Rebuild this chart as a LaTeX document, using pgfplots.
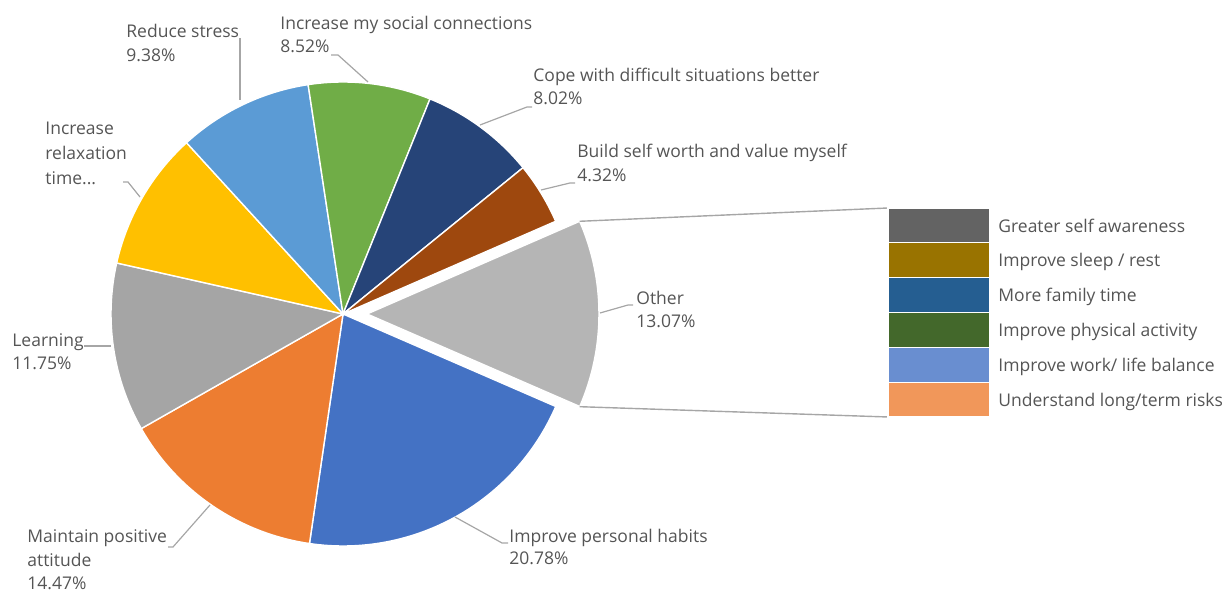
\documentclass[border=0pt]{standalone}
\usepackage{pgfplots}
\pgfplotsset{compat=1.18}
\usepackage{pgfplotstable}
\usepackage{fontspec}
\setmainfont{Open Sans}
\definecolor{cA}{HTML}{4472C4}
\definecolor{cB}{HTML}{ED7D31}
\definecolor{cC}{HTML}{A5A5A5}
\definecolor{cD}{HTML}{FFC000}
\definecolor{cE}{HTML}{5B9BD5}
\definecolor{cF}{HTML}{70AD47}
\definecolor{cG}{HTML}{264478}
\definecolor{cH}{HTML}{9E480E}
\definecolor{cI}{HTML}{B5B5B5}
\definecolor{bA}{HTML}{636363}
\definecolor{bB}{HTML}{997300}
\definecolor{bC}{HTML}{255E91}
\definecolor{bD}{HTML}{43682B}
\definecolor{bE}{HTML}{698ED0}
\definecolor{bF}{HTML}{F1975A}
\definecolor{txt}{HTML}{555555}
\definecolor{ldr}{HTML}{A6A6A6}

\pgfplotstableread{
pct col
20.78 cA
14.47 cB
11.75 cC
9.69 cD
9.38 cE
8.52 cF
8.02 cG
4.32 cH
13.07 cI
}\piedata

\pgfplotstableread{
x v
0.5 2.18
}\bardata

\newcommand{\lfont}{\fontsize{8.75}{12}\selectfont}
\newcommand{\lab}[3]{\node[anchor=base west, inner sep=0pt, text=txt, font=\lfont] at (axis cs:#1,#2) {#3};}

\begin{document}
\begin{tikzpicture}
\useasboundingbox (0,0) rectangle (612.5pt,296pt);
\begin{axis}[
  at={(0,0)}, anchor=south west,
  x=0.5pt, y=0.5pt,
  xmin=-343, xmax=882, ymin=-278, ymax=314,
  hide axis, clip=false,
]
\def\cum{0}
\pgfplotsforeachungrouped \i in {0,...,8}{%
  \pgfplotstablegetelem{\i}{pct}\of\piedata \let\slicepct\pgfplotsretval
  \pgfplotstablegetelem{\i}{col}\of\piedata \let\slicecol\pgfplotsretval
  \pgfmathsetmacro{\sa}{-23.5 - 3.6*\cum}%
  \pgfmathsetmacro{\sb}{\sa - 3.6*\slicepct}%
  \pgfmathsetmacro{\cum}{\cum + \slicepct}%
  \pgfmathsetmacro{\offs}{ifthenelse(\i==8,24,0)}%
  \pgfmathsetmacro{\smid}{(\sa+\sb)/2}%
  \edef\temp{\noexpand\fill[\slicecol, draw=white, line width=0.7pt]
    (axis cs:{\offs*cos(\smid)},{\offs*sin(\smid)}) --
    (axis cs:{\offs*cos(\smid)+232*cos(\sa)},{\offs*sin(\smid)+232*sin(\sa)})
    arc[start angle=\sa, end angle=\sb, radius=116pt] -- cycle;}%
  \temp
}
% leader lines
\draw[ldr, line width=0.6pt] (axis cs:-103,214) -- (axis cs:-103,276);
\draw[ldr, line width=0.6pt] (axis cs:25,232) -- (axis cs:-5,259) -- (axis cs:-12,259);
\draw[ldr, line width=0.6pt] (axis cs:137,189) -- (axis cs:184,207) -- (axis cs:189,207);
\draw[ldr, line width=0.6pt] (axis cs:198,124) -- (axis cs:227,131) -- (axis cs:232,131);
\draw[ldr, line width=0.6pt] (axis cs:-203,117) -- (axis cs:-215,132) -- (axis cs:-220,132);
\draw[ldr, line width=0.6pt] (axis cs:-232,-32) -- (axis cs:-259,-32);
\draw[ldr, line width=0.6pt] (axis cs:-133,-191) -- (axis cs:-170,-233) -- (axis cs:-175,-233);
\draw[ldr, line width=0.6pt] (axis cs:112,-203) -- (axis cs:159,-229) -- (axis cs:165,-229);
\draw[ldr, line width=0.6pt] (axis cs:257,1) -- (axis cs:285,9) -- (axis cs:290,9);
% connectors to bar
\draw[ldr, line width=0.7pt] (axis cs:236.7,92.7) -- (axis cs:545,106);
\draw[ldr, line width=0.7pt] (axis cs:236.7,-92.7) -- (axis cs:545,-103);
% labels
\lab{-217}{276}{Reduce stress}
\lab{-217}{252}{9.38\%}
\lab{-63}{284}{Increase my social connections}
\lab{-63}{261}{8.52\%}
\lab{190}{232}{Cope with difficult situations better}
\lab{190}{209}{8.02\%}
\lab{234}{156}{Build self worth and value myself}
\lab{234}{132}{4.32\%}
\lab{-298}{179}{Increase}
\lab{-298}{154}{relaxation}
\lab{-298}{129}{time...}
\lab{-331}{-33}{Learning}
\lab{-331}{-56}{11.75\%}
\lab{-316}{-229}{Maintain positive}
\lab{-316}{-253}{attitude}
\lab{-316}{-276}{14.47\%}
\lab{166}{-229}{Improve personal habits}
\lab{166}{-251}{20.78\%}
\lab{293}{9}{Other}
\lab{293}{-14}{13.07\%}
\end{axis}
\begin{axis}[
  at={(444pt,87.5pt)}, anchor=south west,
  scale only axis, width=51pt, height=104.5pt,
  xmin=0, xmax=1, ymin=0, ymax=13.08,
  hide axis, clip=false,
  stack plots=y,
]
\addplot[ybar, bar width=51pt, fill=bF, draw=white, line width=0.6pt] table[x=x, y=v] {\bardata};
\addplot[ybar, bar width=51pt, fill=bE, draw=white, line width=0.6pt] table[x=x, y=v] {\bardata};
\addplot[ybar, bar width=51pt, fill=bD, draw=white, line width=0.6pt] table[x=x, y=v] {\bardata};
\addplot[ybar, bar width=51pt, fill=bC, draw=white, line width=0.6pt] table[x=x, y=v] {\bardata};
\addplot[ybar, bar width=51pt, fill=bB, draw=white, line width=0.6pt] table[x=x, y=v] {\bardata};
\addplot[ybar, bar width=51pt, fill=bA, draw=white, line width=0.6pt] table[x=x, y=v] {\bardata};
\node[anchor=base west, inner sep=0pt, text=txt, font=\lfont, xshift=4pt, yshift=-3.3pt] at (axis cs:1,11.99) {Greater self awareness};
\node[anchor=base west, inner sep=0pt, text=txt, font=\lfont, xshift=4pt, yshift=-3.3pt] at (axis cs:1,9.81) {Improve sleep / rest};
\node[anchor=base west, inner sep=0pt, text=txt, font=\lfont, xshift=4pt, yshift=-3.3pt] at (axis cs:1,7.63) {More family time};
\node[anchor=base west, inner sep=0pt, text=txt, font=\lfont, xshift=4pt, yshift=-3.3pt] at (axis cs:1,5.45) {Improve physical activity};
\node[anchor=base west, inner sep=0pt, text=txt, font=\lfont, xshift=4pt, yshift=-3.3pt] at (axis cs:1,3.27) {Improve work/ life balance};
\node[anchor=base west, inner sep=0pt, text=txt, font=\lfont, xshift=4pt, yshift=-3.3pt] at (axis cs:1,1.09) {Understand long/term risks};
\end{axis}
\end{tikzpicture}
\end{document}
